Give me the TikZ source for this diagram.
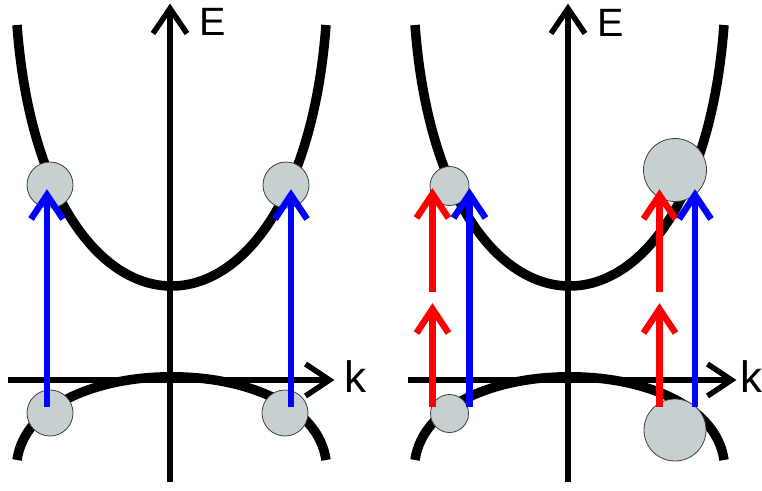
\documentclass[tikz,border=0pt]{standalone}
\usepackage{fontspec}
\setmainfont{Liberation Sans}
\definecolor{dotgray}{RGB}{198,208,208}
\definecolor{phblue}{RGB}{0,0,255}
\definecolor{phred}{RGB}{255,0,0}
\begin{document}
\begin{tikzpicture}[x=1pt,y=-1pt,
  band/.style={line width=9.5pt, black, line cap=butt},
  axisline/.style={line width=5.5pt, black, line cap=butt},
  photon/.style={line width=6.5pt, line cap=butt},
  chev/.style={line join=miter, miter limit=10, line cap=butt},
  dot/.style={circle, draw=black!75, line width=0.8pt, fill=dotgray, inner sep=0pt, minimum size=#1},
  lblE/.style={inner sep=0pt, anchor=base west, font=\fontsize{39.5}{40}\selectfont},
  lblk/.style={inner sep=0pt, anchor=base west, font=\fontsize{44}{45}\selectfont}]
\useasboundingbox (0,0) rectangle (762,490);

% ---------- LEFT PANEL ----------
% bands
\draw[band] (17,25) .. controls (43,373) and (300,373) .. (326,25);
\draw[band] (17,460) .. controls (33,349) and (310,349) .. (326,460);
% axes
\coordinate (Lvb) at (170,482);
\coordinate (Lvt) at (170,8.5);
\coordinate (Lhl) at (8,380);
\coordinate (Lhr) at (329.5,380);
\draw[axisline] (Lvb) -- (Lvt);
\draw[axisline,chev] (Lvt) ++(-17,25) -- ++(17,-25) -- ++(17,25);
\draw[axisline] (Lhl) -- (Lhr);
\draw[axisline,chev] (Lhr) ++(-24,-16) -- ++(24,16) -- ++(-24,16);
\node[lblE] (LE) at (199,35) {E};
\node[lblk] (Lk) at (344,392) {k};
% circles
\node[dot=46pt] (Lc1) at (50,185) {};
\node[dot=46pt] (Lc2) at (286,185) {};
\node[dot=46pt] (Lv1) at (50,413) {};
\node[dot=46pt] (Lv2) at (285,413) {};
% blue transitions
\coordinate (Lb1s) at (47,407);
\coordinate (Lb1t) at (47,195);
\coordinate (Lb2s) at (291,407);
\coordinate (Lb2t) at (291,195);
\draw[photon,phblue] (Lb1s) -- (Lb1t);
\draw[photon,phblue,chev] (Lb1t) ++(-16,24) -- ++(16,-24) -- ++(16,24);
\draw[photon,phblue] (Lb2s) -- (Lb2t);
\draw[photon,phblue,chev] (Lb2t) ++(-16,24) -- ++(16,-24) -- ++(16,24);

% ---------- RIGHT PANEL ----------
\draw[band] (415,25) .. controls (441,373) and (698,373) .. (724,25);
\draw[band] (415,460) .. controls (431,349) and (708,349) .. (724,460);
\coordinate (Rvb) at (568,482);
\coordinate (Rvt) at (568,8.5);
\coordinate (Rhl) at (408,380);
\coordinate (Rhr) at (731.5,380);
\draw[axisline] (Rvb) -- (Rvt);
\draw[axisline,chev] (Rvt) ++(-17,25) -- ++(17,-25) -- ++(17,25);
\draw[axisline] (Rhl) -- (Rhr);
\draw[axisline,chev] (Rhr) ++(-24,-16) -- ++(24,16) -- ++(-24,16);
\node[lblE] (RE) at (597,36.5) {E};
\node[lblk] (Rk) at (740.5,392) {k};
% circles
\node[dot=39pt] (Rc1) at (449.5,186) {};
\node[dot=63pt] (Rc2) at (675,170) {};
\node[dot=38pt] (Rv1) at (449.5,413.5) {};
\node[dot=62pt] (Rv2) at (675,430) {};
% red two-step transitions
\coordinate (Rr1s) at (432.5,407);
\coordinate (Rr1m) at (432.5,309);
\coordinate (Rr1u) at (432.5,292);
\coordinate (Rr1t) at (432.5,194);
\draw[photon,phred] (Rr1s) -- (Rr1m);
\draw[photon,phred,chev] (Rr1m) ++(-16,24) -- ++(16,-24) -- ++(16,24);
\draw[photon,phred] (Rr1u) -- (Rr1t);
\draw[photon,phred,chev] (Rr1t) ++(-16,24) -- ++(16,-24) -- ++(16,24);
\coordinate (Rr2s) at (659.5,407);
\coordinate (Rr2m) at (659.5,309);
\coordinate (Rr2u) at (659.5,292);
\coordinate (Rr2t) at (659.5,195);
\draw[photon,phred] (Rr2s) -- (Rr2m);
\draw[photon,phred,chev] (Rr2m) ++(-16,24) -- ++(16,-24) -- ++(16,24);
\draw[photon,phred] (Rr2u) -- (Rr2t);
\draw[photon,phred,chev] (Rr2t) ++(-16,24) -- ++(16,-24) -- ++(16,24);
% blue transitions
\coordinate (Rb1s) at (469.5,407);
\coordinate (Rb1t) at (469.5,194);
\coordinate (Rb2s) at (695,407);
\coordinate (Rb2t) at (695,195);
\draw[photon,phblue] (Rb1s) -- (Rb1t);
\draw[photon,phblue,chev] (Rb1t) ++(-16,24) -- ++(16,-24) -- ++(16,24);
\draw[photon,phblue] (Rb2s) -- (Rb2t);
\draw[photon,phblue,chev] (Rb2t) ++(-16,24) -- ++(16,-24) -- ++(16,24);
\end{tikzpicture}
\end{document}
